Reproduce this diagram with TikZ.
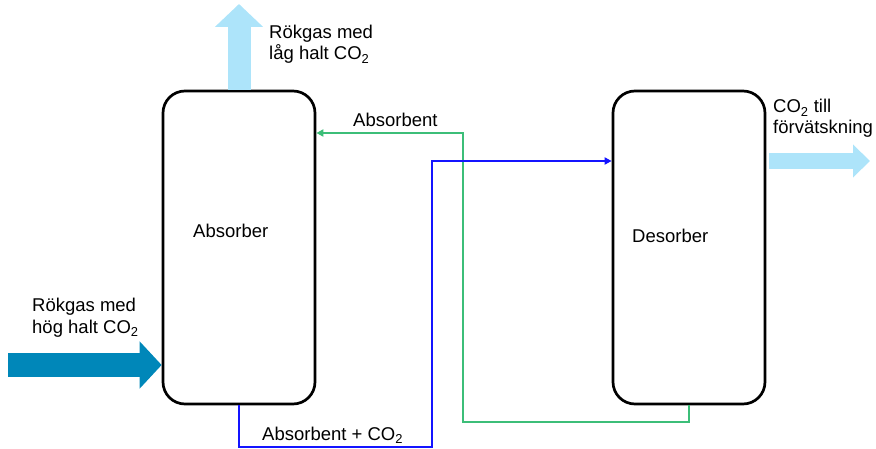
\documentclass[tikz,border=0pt]{standalone}
\usepackage{fontspec}
\setmainfont{Liberation Sans}
\usetikzlibrary{arrows.meta,positioning}

\definecolor{gaslight}{RGB}{173,228,250}
\definecolor{gasdark}{RGB}{0,135,185}
\definecolor{absgreen}{RGB}{60,190,120}
\definecolor{absblue}{RGB}{20,20,255}

\tikzset{
  column/.style={draw, line width=2.7pt, rounded corners=22pt, minimum width=152pt, minimum height=313pt, inner sep=0pt},
  txt/.style={inner sep=0pt, anchor=base west, align=left, font=\fontsize{18.5}{21}\selectfont},
  flowline/.style={line width=2.6pt, -{Triangle[length=7pt,width=7pt]}},
}

\begin{document}
\begin{tikzpicture}[x=1pt, y=-1pt]

  \useasboundingbox (0,0) rectangle (876,449);

  % Columns
  \node[column] (absorber) at (239,247.5) {};
  \node[column] (desorber) at (689,247.5) {};
  \node[txt] (abstext) at (193,238) {Absorber};
  \node[txt] (destext) at (632,243) {Desorber};

  % Bend points of the pipes
  \coordinate (gbot) at (463,422);
  \coordinate (gtop) at (463,133);
  \coordinate (bbot) at (432,447);
  \coordinate (btop) at (432,161);

  % Absorbent back to absorber
  \draw[flowline, absgreen] (desorber.south) |- (gbot) |- (absorber.east |- gtop);
  \node[txt] (lean) at (353,127) {Absorbent};

  % Absorbent + CO2 to desorber
  \draw[flowline, absblue] (absorber.south) |- (bbot) |- (desorber.west |- btop);
  \node[txt] (rich) at (262,440) {Absorbent + CO\textsubscript{2}};

  % Flue gas in
  \coordinate (gasin) at (8,365);
  \draw[line width=24pt, gasdark, -{Triangle[length=22pt,width=46pt]}] (gasin) -- (gasin -| absorber.west);
  \node[txt] (gasintext) at (32,333) {Rökgas med\\hög halt CO\textsubscript{2}};

  % Flue gas out
  \coordinate (gasout) at (239,4);
  \draw[line width=23pt, gaslight, -{Triangle[length=23pt,width=47pt]}] (absorber.north) -- (gasout);
  \node[txt] (gasouttext) at (269,60) {Rökgas med\\låg halt CO\textsubscript{2}};

  % CO2 out
  \coordinate (co2out) at (870,161);
  \draw[line width=16pt, gaslight, shorten <=3pt, -{Triangle[length=17pt,width=32pt]}] (desorber.east |- co2out) -- (co2out);
  \node[txt] (co2text) at (773,134) {CO\textsubscript{2} till\\förvätskning};

\end{tikzpicture}
\end{document}
